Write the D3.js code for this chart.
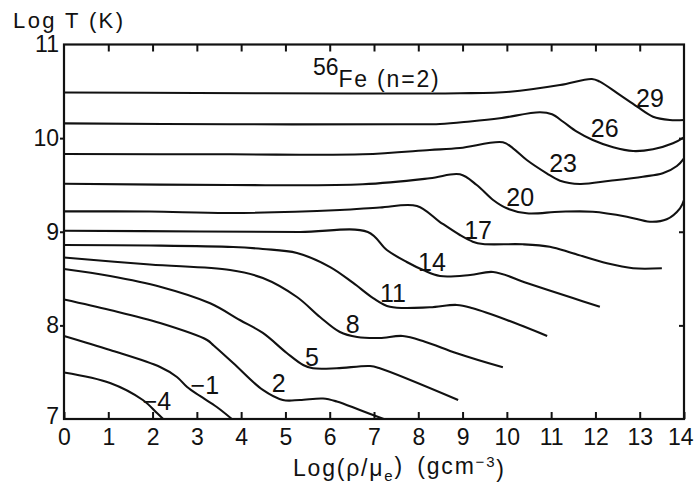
<!DOCTYPE html>
<html>
<head>
<meta charset="utf-8">
<script src="https://cdn.jsdelivr.net/npm/d3@7"></script>
<style>
  html, body { margin: 0; padding: 0; background: #fff; }
  svg { display: block; }
  text { font-family: "Liberation Sans", Arial, sans-serif; fill: #111; }
</style>
</head>
<body>
<svg id="chart" width="694" height="489"></svg>
<script>
// ---- data (Log rho/mu_e, Log T) ----
const xTicks = [0,1,2,3,4,5,6,7,8,9,10,11,12,13,14];
const yTicks = [7,8,9,10,11];
const curveN = [29, 26, 23, 20, 17, 14, 11, 8, 5, 2, -1, -4];

const rho29  = [0, 3, 6.5, 8.94, 10.07, 11.2, 11.92, 12.1, 12.55, 12.94, 13.3, 13.68, 14];
const logT29 = [10.487, 10.482, 10.477, 10.479, 10.496, 10.567, 10.632, 10.603, 10.461, 10.336, 10.229, 10.194, 10.194];

const rho26  = [0, 3.75, 7.59, 8.49, 9.17, 9.84, 10.75, 11.02, 11.27, 11.58, 11.94, 12.4, 12.85, 13.3, 13.75, 14];
const logT26 = [10.158, 10.148, 10.148, 10.151, 10.178, 10.212, 10.276, 10.254, 10.175, 10.069, 9.98, 9.902, 9.862, 9.881, 9.945, 10.009];

const rho23  = [0, 3.75, 6.75, 8.26, 8.94, 9.91, 10.14, 10.45, 10.9, 11.2, 11.65, 12.33, 13.07, 13.52, 13.84, 14];
const logT23 = [9.83, 9.827, 9.827, 9.873, 9.895, 9.955, 9.891, 9.766, 9.624, 9.545, 9.51, 9.545, 9.588, 9.624, 9.702, 9.785];

const rho20  = [0, 3.75, 6.75, 8.26, 8.94, 9.32, 9.69, 10.0, 10.45, 11.2, 11.94, 12.71, 13.23, 13.61, 13.91, 14];
const logT20 = [9.513, 9.499, 9.507, 9.571, 9.614, 9.499, 9.339, 9.25, 9.197, 9.214, 9.214, 9.161, 9.107, 9.133, 9.25, 9.339];

const rho17  = [0, 1.94, 3.75, 6.23, 7.13, 7.97, 8.49, 8.94, 9.23, 9.46, 10.36, 10.97, 11.49, 12.26, 12.85, 13.5];
const logT17 = [9.218, 9.216, 9.2, 9.232, 9.259, 9.275, 9.104, 8.965, 8.894, 8.869, 8.866, 8.84, 8.77, 8.663, 8.61, 8.61];

const rho14  = [0, 3.07, 5.33, 6.86, 7.29, 7.74, 8.11, 8.49, 9.17, 9.69, 10.45, 11.49, 12.1];
const logT14 = [9.011, 9.003, 8.997, 8.997, 8.805, 8.677, 8.591, 8.527, 8.538, 8.57, 8.453, 8.292, 8.199];

const rho11  = [0, 1.94, 3.82, 4.49, 5.26, 6.01, 6.53, 6.98, 7.36, 8.26, 8.87, 9.23, 10.0, 10.91];
const logT11 = [8.858, 8.853, 8.837, 8.816, 8.773, 8.623, 8.453, 8.292, 8.199, 8.193, 8.218, 8.182, 8.057, 7.887];

const rho8   = [0, 1.94, 3.75, 4.49, 5.26, 5.78, 6.23, 6.62, 7.13, 7.65, 8.15, 8.87, 9.91];
const logT8  = [8.725, 8.65, 8.591, 8.506, 8.303, 8.089, 7.929, 7.876, 7.865, 7.887, 7.826, 7.702, 7.552];

const rho5   = [0, 1.04, 2.17, 3.3, 3.97, 4.49, 5.03, 5.4, 5.62, 6.16, 6.91, 7.13, 8.9];
const logT5  = [8.602, 8.527, 8.413, 8.236, 8.057, 7.919, 7.705, 7.577, 7.542, 7.542, 7.566, 7.542, 7.203];

const rho2   = [0, 1.04, 2.17, 3.23, 3.38, 3.82, 4.49, 4.94, 5.33, 5.85, 6.16, 6.68, 7.22];
const logT2  = [8.276, 8.164, 8.025, 7.844, 7.785, 7.598, 7.31, 7.203, 7.203, 7.219, 7.187, 7.096, 7.0];

const rhoM1  = [0, 1.04, 2.17, 2.55, 2.78, 3.07, 3.45, 3.79];
const logTM1 = [7.887, 7.737, 7.555, 7.449, 7.342, 7.246, 7.128, 7.0];

const rhoM4  = [0, 1.04, 1.78, 2.1, 2.24];
const logTM4 = [7.497, 7.385, 7.203, 7.064, 7.0];

const curveRho  = [rho29, rho26, rho23, rho20, rho17, rho14, rho11, rho8, rho5, rho2, rhoM1, rhoM4];
const curveLogT = [logT29, logT26, logT23, logT20, logT17, logT14, logT11, logT8, logT5, logT2, logTM1, logTM4];

// curve label anchors (data units)
const labelRho  = [13.23, 12.21, 11.27, 10.30, 9.35, 8.31, 7.43, 6.52, 5.60, 4.85, 3.18, 2.10];
const labelLogT = [10.43, 10.11, 9.735, 9.372, 9.02, 8.677, 8.346, 8.015, 7.662, 7.385, 7.363, 7.19];

// ---- layout ----
const W = 694, H = 489;
const margin = {left: 64, top: 44.5, right: 10, bottom: 70};
const svg = d3.select("#chart");

const x = d3.scaleLinear().domain([0, 14]).range([margin.left, W - margin.right]);
const y = d3.scaleLinear().domain([7, 11]).range([H - margin.bottom, margin.top]);

const fmt = v => (v < 0 ? "\u2212" + Math.abs(v) : String(v));

// curves
const line = d3.line().x(d => x(d[0])).y(d => y(d[1])).curve(d3.curveCatmullRom.alpha(0.5));
curveN.forEach((n, i) => {
  const pts = curveRho[i].map((r, j) => [r, curveLogT[i][j]]);
  svg.append("path").datum(pts)
    .attr("d", line)
    .attr("fill", "none")
    .attr("stroke", "#111")
    .attr("stroke-width", 2.1)
    .attr("stroke-linejoin", "round");
});

// frame
svg.append("rect")
  .attr("x", x(0)).attr("y", y(11))
  .attr("width", x(14) - x(0)).attr("height", y(7) - y(11))
  .attr("fill", "none").attr("stroke", "#111").attr("stroke-width", 2.2);

// bottom axis (ticks inward)
const gx = svg.append("g").attr("transform", `translate(0,${y(7)})`)
  .call(d3.axisBottom(x).tickValues(xTicks).tickSizeInner(-7).tickSizeOuter(0).tickPadding(10).tickFormat(fmt));
gx.select(".domain").remove();
gx.selectAll(".tick line").attr("stroke", "#111").attr("stroke-width", 2);
gx.selectAll(".tick text").attr("font-size", 23).attr("fill", "#111")
  .attr("font-family", "Liberation Sans, Arial, sans-serif")
  .attr("text-anchor", d => d === 14 ? "end" : "middle")
  .attr("dx", d => d === 14 ? 9 : 0);

// top axis (ticks inward, no labels)
const gt = svg.append("g").attr("transform", `translate(0,${y(11)})`)
  .call(d3.axisTop(x).tickValues(xTicks.slice(1, -1)).tickSizeInner(-7).tickSizeOuter(0).tickFormat(""));
gt.select(".domain").remove();
gt.selectAll(".tick line").attr("stroke", "#111").attr("stroke-width", 2);

// left axis (ticks outward)
const gy = svg.append("g").attr("transform", `translate(${x(0)},0)`)
  .call(d3.axisLeft(y).tickValues(yTicks).tickSizeInner(4).tickSizeOuter(0).tickPadding(1).tickFormat(fmt));
gy.select(".domain").remove();
gy.selectAll(".tick line").attr("stroke", "#111").attr("stroke-width", 2)
  .attr("display", d => (d === 7 || d === 11) ? "none" : null);
gy.selectAll(".tick text").attr("font-size", 23).attr("fill", "#111")
  .attr("font-family", "Liberation Sans, Arial, sans-serif")
  .attr("dy", d => d === 7 ? "0.2em" : "0.32em");

// right axis (ticks inward, no labels)
const gr = svg.append("g").attr("transform", `translate(${x(14)},0)`)
  .call(d3.axisRight(y).tickValues(yTicks.slice(1, -1)).tickSizeInner(-5).tickSizeOuter(0).tickFormat(""));
gr.select(".domain").remove();
gr.selectAll(".tick line").attr("stroke", "#111").attr("stroke-width", 2);

// curve labels
svg.append("g").selectAll("text").data(curveN).join("text")
  .attr("x", (d, i) => x(labelRho[i]))
  .attr("y", (d, i) => y(labelLogT[i]))
  .attr("dy", "0.36em")
  .attr("text-anchor", "middle")
  .attr("font-size", 25)
  .text(d => fmt(d));

// 56Fe (n=2) annotation
const fe = svg.append("text")
  .attr("x", x(5.62)).attr("y", y(10.55))
  .attr("font-size", 23);
fe.append("tspan").attr("dy", "-0.5em").text("56");
fe.append("tspan").attr("dy", "0.5em").attr("letter-spacing", 1.8).text("Fe (n=2)");

// y axis title
svg.append("text")
  .attr("x", 13).attr("y", 28)
  .attr("font-size", 22)
  .attr("textLength", 110).attr("lengthAdjust", "spacing")
  .text("Log T (K)");

// x axis title
const xt = svg.append("text")
  .attr("x", 293).attr("y", 476)
  .attr("font-size", 23)
  .attr("letter-spacing", 1.8);
xt.append("tspan").text("Log(\u03C1/\u03BC");
xt.append("tspan").attr("dy", "0.3em").attr("font-size", 15).text("e");
xt.append("tspan").attr("dy", "-0.3em").text(")\u2002(gcm");
xt.append("tspan").attr("dy", "-0.45em").attr("font-size", 15).text("\u22123");
xt.append("tspan").attr("dy", "0.45em").text(")");
</script>
</body>
</html>
